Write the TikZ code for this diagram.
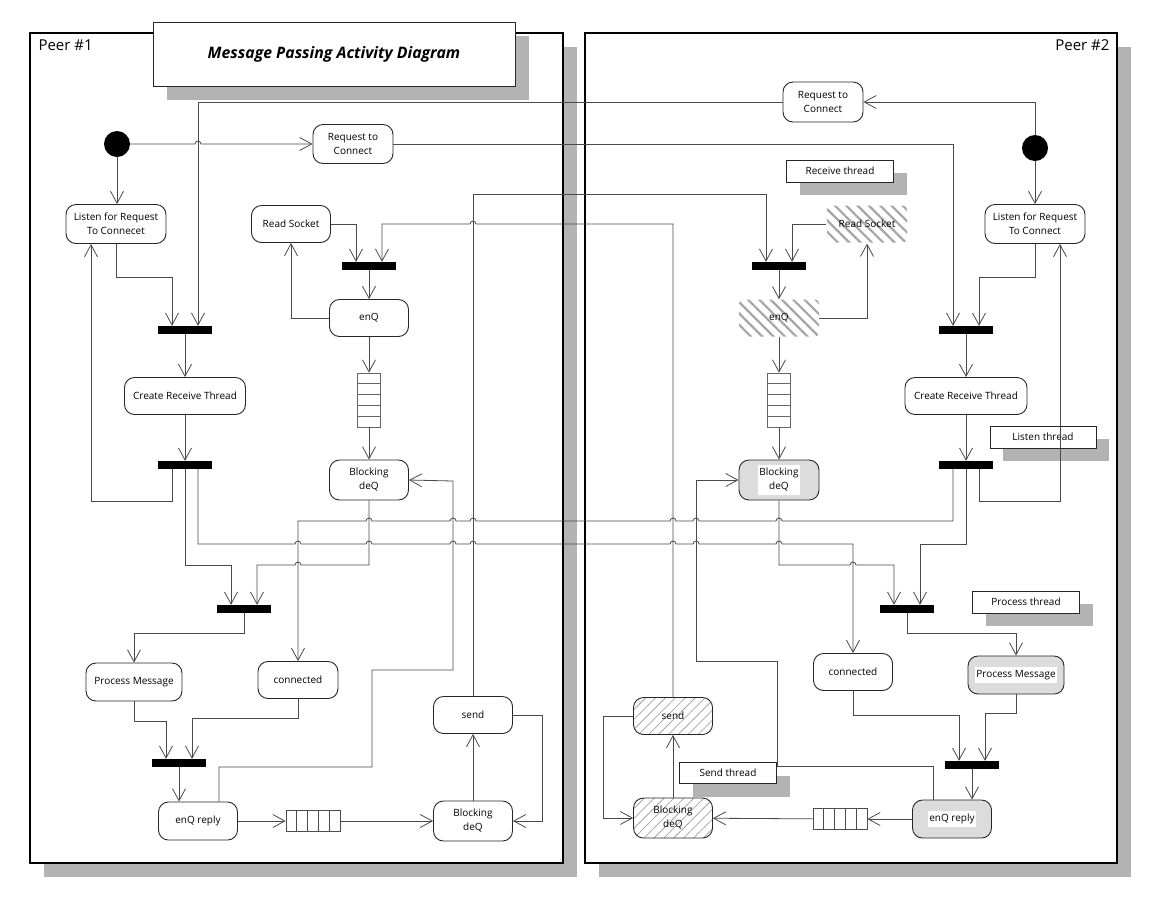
\documentclass[tikz,border=0pt]{standalone}
\usepackage{fontspec}
\setmainfont{Open Sans}
\usetikzlibrary{arrows.meta, patterns.meta, shadows, positioning}
\definecolor{shadowGrey}{HTML}{B3B3B3}
\definecolor{lineGrey}{HTML}{4A4A4A}
\definecolor{fillGrey}{HTML}{DCDCDC}
\newcommand{\wtext}[1]{{\setlength{\fboxsep}{1pt}\colorbox{white}{\begin{tabular}{@{}c@{}}#1\end{tabular}}}}

\tikzset{
  act/.style={draw=black!85, line width=0.9pt, rounded corners=10pt, fill=white,
              align=center, inner sep=1pt, font=\fontsize{10}{14}\selectfont},
  greyact/.style={act, fill=fillGrey},
  hatchact/.style={act, fill=none, pattern={Lines[angle=45, distance=7pt, line width=0.8pt]},
                   pattern color=black!35},
  hatchbox/.style={rounded corners=4pt, align=center, inner sep=1pt, font=\fontsize{10}{14}\selectfont,
                   pattern={Lines[angle=-45, distance=8pt, line width=2.2pt]}, pattern color=black!35},
  start/.style={circle, fill=black, minimum size=26pt, inner sep=0pt},
  bar/.style={fill=black, minimum width=54pt, minimum height=8pt, inner sep=0pt},
  vqueue/.style={draw=black!60, line width=0.7pt, minimum width=23pt, minimum height=54pt, inner sep=0pt,
                 path picture={\foreach \k in {1,...,4}
                   \draw[black!60, line width=0.7pt] ([yshift=-\k*10.8pt]path picture bounding box.north west) -- ++(23pt,0pt);}},
  hqueue/.style={draw=black!70, line width=0.7pt, minimum width=54pt, minimum height=21pt, inner sep=0pt,
                 path picture={\foreach \k in {1,...,4}
                   \draw[black!70, line width=0.7pt] ([xshift=\k*10.8pt]path picture bounding box.north west) -- ++(0pt,-21pt);}},
  note/.style={draw=black!85, line width=0.9pt, fill=white, inner sep=0pt, minimum height=22pt,
               font=\fontsize{10}{12}\selectfont,
               drop shadow={shadow xshift=13pt, shadow yshift=-13pt, fill=shadowGrey, opacity=1}},
  frame/.style={draw=black, line width=1.8pt, fill=white,
                drop shadow={shadow xshift=14pt, shadow yshift=-14pt, fill=shadowGrey, opacity=1}},
  flow/.style={draw=lineGrey, line width=0.8pt, -{Straight Barb[length=12pt, width=13pt, line width=0.8pt]}},
}

\begin{document}
\begin{tikzpicture}[x=1pt, y=-1pt]
  \useasboundingbox[fill=white] (0,0) rectangle (1149,898);

  % swimlanes
  \draw[frame] (30,33) rectangle (563,863);
  \draw[frame] (585,33) rectangle (1117,863);
  \node[draw=black!85, line width=1pt, fill=white, minimum width=362pt, minimum height=64pt,
        font=\fontsize{15.8}{18}\selectfont\bfseries\itshape,
        drop shadow={shadow xshift=14pt, shadow yshift=-14pt, fill=shadowGrey, opacity=1}]
        (title) at (334,54) {Message Passing Activity Diagram};
  \node[anchor=north west, font=\fontsize{15}{17}\selectfont] (peerA) at (35,36) {Peer \#1};
  \node[anchor=north east, font=\fontsize{15}{17}\selectfont] (peerB) at (1113,36) {Peer \#2};

  % Peer #1
  \node[start] (startA) at (117,144) {};
  \node[act, minimum width=80pt, minimum height=39pt] (reqA) at (353,144) {Request to\\Connect};
  \node[act, minimum width=100pt, minimum height=39pt] (listenA) at (116,224) {Listen for Request\\To Connecet};
  \node[act, minimum width=79pt, minimum height=37pt] (readA) at (291,224) {Read Socket};
  \node[bar] (barRA) at (369,266) {};
  \node[act, minimum width=79pt, minimum height=37pt] (enqA) at (369,318) {enQ};
  \node[vqueue] (qA) at (369,400) {};
  \node[act, minimum width=79pt, minimum height=40pt] (bdqA) at (369,480) {Blocking\\deQ};
  \node[bar] (joinA) at (185,330) {};
  \node[act, minimum width=121pt, minimum height=37pt] (crtA) at (185,396) {Create Receive Thread};
  \node[bar] (forkA) at (185,465) {};
  \node[bar] (barPA) at (244,609) {};
  \node[act, minimum width=96pt, minimum height=38pt] (procA) at (134,682) {Process Message};
  \node[act, minimum width=80pt, minimum height=37pt] (connA) at (298,680) {connected};
  \node[bar] (barEA) at (179,763) {};
  \node[act, minimum width=79pt, minimum height=38pt] (enqrA) at (198,821) {enQ reply};
  \node[hqueue] (qrA) at (313,821) {};
  \node[act, minimum width=79pt, minimum height=40pt] (sbdqA) at (473,821) {Blocking\\deQ};
  \node[act, minimum width=79pt, minimum height=37pt] (sendA) at (473,715) {send};

  % Peer #2
  \node[act, minimum width=80pt, minimum height=40pt] (reqB) at (823,102) {Request to\\Connect};
  \node[start] (startB) at (1035,148) {};
  \node[note, minimum width=107pt] (noteR) at (840,171) {Receive thread};
  \node[hatchbox, minimum width=80pt, minimum height=37pt] (readB) at (867,224) {Read Socket};
  \node[act, minimum width=100pt, minimum height=39pt] (listenB) at (1035,224) {Listen for Request\\To Connect};
  \node[bar] (barRB) at (779,266) {};
  \node[hatchbox, minimum width=80pt, minimum height=37pt] (enqB) at (779,318) {enQ};
  \node[vqueue] (qB) at (779,400) {};
  \node[greyact, minimum width=80pt, minimum height=40pt] (bdqB) at (779,480) {\wtext{Blocking\\deQ}};
  \node[bar] (joinB) at (966,330) {};
  \node[act, minimum width=122pt, minimum height=37pt] (crtB) at (966,396) {Create Receive Thread};
  \node[note, minimum width=106pt] (noteL) at (1043,437) {Listen thread};
  \node[bar] (forkB) at (966,465) {};
  \node[bar] (barPB) at (907,609) {};
  \node[note, minimum width=107pt] (noteP) at (1026,602) {Process thread};
  \node[act, minimum width=79pt, minimum height=37pt] (connB) at (853,672) {connected};
  \node[greyact, minimum width=96pt, minimum height=38pt] (procB) at (1016,675) {\wtext{Process Message}};
  \node[bar] (barEB) at (972,765) {};
  \node[greyact, minimum width=79pt, minimum height=38pt] (enqrB) at (952,819) {\wtext{enQ reply}};
  \node[hqueue] (qrB) at (840,819) {};
  \node[hatchact, minimum width=79pt, minimum height=40pt] (sbdqB) at (673,818) {Blocking\\deQ};
  \node[hatchact, minimum width=79pt, minimum height=37pt] (sendB) at (673,716) {send};
  \node[note, minimum width=97pt, minimum height=21pt] (noteS) at (728,773) {Send thread};

  % connecting
  \draw[flow] (startA.south) -- (startA.south |- listenA.north);
  \draw[flow] (startA.east) -- (195,144) arc[start angle=180, end angle=0, radius=3pt] -- (reqA.west);
  \draw[flow] (reqA.east) -| ([xshift=-13pt]joinB.north);
  \draw[flow] (reqB.west) -| ([xshift=13pt]joinA.north);
  \draw[flow] (startB.north) |- (reqB.east);
  \draw[flow] (startB.south) -- (startB.south |- listenB.north);
  \draw[flow] (listenA.south) -- (116,277) -| ([xshift=-13pt]joinA.north);
  \draw[flow] (listenB.south) -- (1035,277) -| ([xshift=13pt]joinB.north);
  \draw[flow] (joinA) -- (crtA);
  \draw[flow] (crtA) -- (forkA);
  \draw[flow] (joinB) -- (crtB);
  \draw[flow] (crtB) -- (forkB);
  \draw[flow] ([xshift=-13pt]forkA.south) -- (172,501) -| ([xshift=-25pt]listenA.south);
  \draw[flow] ([xshift=13pt]forkB.south) -- (979,501) -| ([xshift=25pt]listenB.south);
  \draw[flow] (forkA.south) -- (185,565) -| ([xshift=-13pt]barPA.north);
  \draw[flow] (forkB.south) -- (966,544) -| ([xshift=13pt]barPB.north);
  \draw[flow] ([xshift=13pt]forkA.south) -- (198,544)
    -- (295,544) arc[start angle=180, end angle=0, radius=3pt]
    -- (366,544) arc[start angle=180, end angle=0, radius=3pt]
    -- (450,544) arc[start angle=180, end angle=0, radius=3pt]
    -- (470,544) arc[start angle=180, end angle=0, radius=3pt]
    -- (670,544) arc[start angle=180, end angle=0, radius=3pt]
    -- (693,544) arc[start angle=180, end angle=0, radius=3pt]
    -- (776,544) arc[start angle=180, end angle=0, radius=3pt]
    -- (853,544) -- (connB.north);
  \draw[flow] ([xshift=-13pt]forkB.south) -- (953,521)
    -- (782,521) arc[start angle=0, end angle=180, radius=3pt]
    -- (699,521) arc[start angle=0, end angle=180, radius=3pt]
    -- (676,521) arc[start angle=0, end angle=180, radius=3pt]
    -- (476,521) arc[start angle=0, end angle=180, radius=3pt]
    -- (456,521) arc[start angle=0, end angle=180, radius=3pt]
    -- (372,521) arc[start angle=0, end angle=180, radius=3pt]
    -- (298,521) -- (connA.north);

  % receive threads
  \draw[flow] (readA.east) -| ([xshift=-13pt]barRA.north);
  \draw[flow] (sendB.north) -- (673,224) -- (476,224) arc[start angle=0, end angle=180, radius=3pt]
    -- (382,224) -- ([xshift=13pt]barRA.north);
  \draw[flow] (sendA.north) -- (473,194) -| ([xshift=-13pt]barRB.north);
  \draw[flow] (readB.west) -| ([xshift=13pt]barRB.north);
  \draw[flow] (barRA) -- (enqA);
  \draw[flow] (barRB) -- (enqB);
  \draw[flow] (enqA.west) -| (readA.south);
  \draw[flow] (enqB.east) -| (readB.south);
  \draw[flow] (enqA) -- (qA);
  \draw[flow] (qA) -- (bdqA);
  \draw[flow] (enqB) -- (qB);
  \draw[flow] (qB) -- (bdqB);

  % process threads
  \draw[flow] (bdqA.south) -- (369,565) -- (301,565) arc[start angle=0, end angle=180, radius=3pt]
    -- (257,565) -- ([xshift=13pt]barPA.north);
  \draw[flow] (bdqB.south) -- (779,565) -- (850,565) arc[start angle=180, end angle=0, radius=3pt]
    -- (894,565) -- ([xshift=-13pt]barPB.north);
  \draw[flow] (barPA.south) -- (244,633) -| (procA.north);
  \draw[flow] (barPB.south) -- (907,633) -| (procB.north);
  \draw[flow] (procA.south) -- (134,721) -| ([xshift=-13pt]barEA.north);
  \draw[flow] (connA.south) -- (298,718) -| ([xshift=13pt]barEA.north);
  \draw[flow] (connB.south) -- (853,715) -| ([xshift=-13pt]barEB.north);
  \draw[flow] (procB.south) -- (1016,713) -| ([xshift=13pt]barEB.north);
  \draw[flow] (barEA.south) -- (barEA.south |- enqrA.north);
  \draw[flow] (barEB.south) -- (barEB.south |- enqrB.north);
  \draw[flow] ([xshift=21pt]enqrA.north) -- (219,767) -- (372,767) -- (372,670) -- (453,670)
    -- (453,481) -- (bdqA.east);
  \draw[flow] ([xshift=-19pt]enqrB.north) -- (933,766) -- (777,766) -- (777,661) -- (696,661)
    -- (696,480) -- (bdqB.west);

  % send threads
  \draw[flow] (enqrA) -- (qrA);
  \draw[flow] (qrA) -- (sbdqA);
  \draw[flow] (enqrB) -- (qrB);
  \draw[flow] (qrB) -- (sbdqB);
  \draw[flow] (sbdqA) -- (sendA);
  \draw[flow] (sbdqB) -- (sendB);
  \draw[flow] (sendA.east) -- (542,715) |- (sbdqA.east);
  \draw[flow] (sendB.west) -- (603,716) |- (sbdqB.west);
\end{tikzpicture}
\end{document}
